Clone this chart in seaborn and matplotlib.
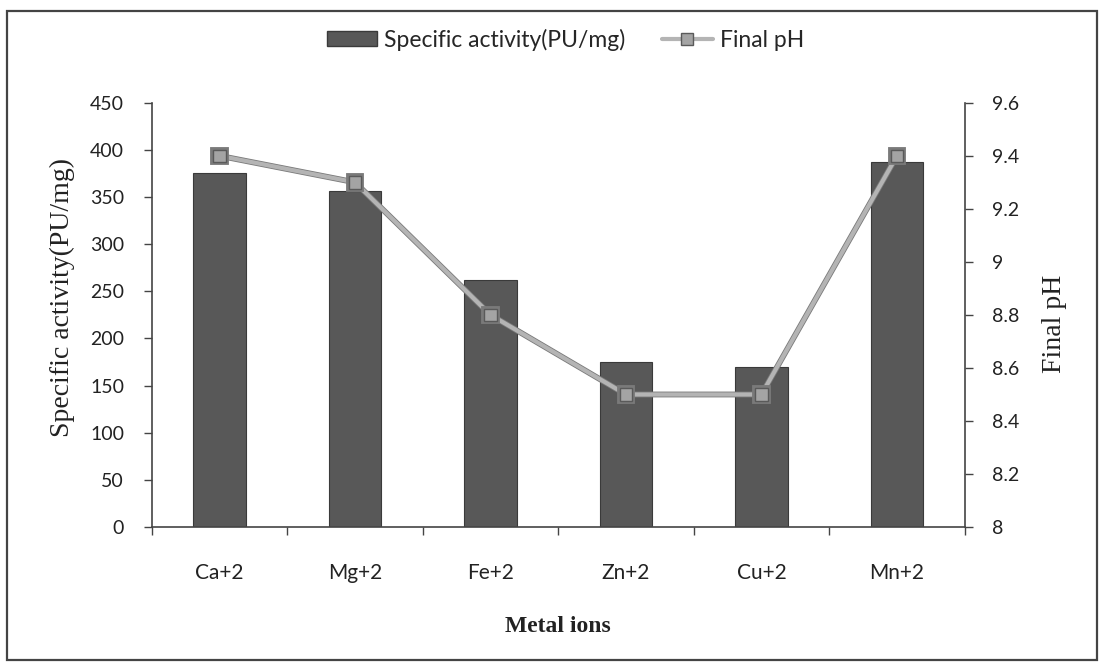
import matplotlib
matplotlib.use("Agg")
import matplotlib.pyplot as plt
import matplotlib.patheffects as pe
from matplotlib.patches import Rectangle
from matplotlib.lines import Line2D
import seaborn as sns
import numpy as np
import pandas as pd

metal_ions = ["Ca+2", "Mg+2", "Fe+2", "Zn+2", "Cu+2", "Mn+2"]
specific_activity = [375, 356, 262, 175, 170, 387]
final_ph = [9.4, 9.3, 8.8, 8.5, 8.5, 9.4]
left_ticks = [0, 50, 100, 150, 200, 250, 300, 350, 400, 450]
right_ticks = [8, 8.2, 8.4, 8.6, 8.8, 9, 9.2, 9.4, 9.6]
right_tick_labels = ["8", "8.2", "8.4", "8.6", "8.8", "9", "9.2", "9.4", "9.6"]

sns.set_theme(style="white")
plt.rcParams["font.family"] = ["Lato", "DejaVu Sans"]

df = pd.DataFrame({"ion": metal_ions, "activity": specific_activity, "ph": final_ph})

fig = plt.figure(figsize=(11, 6.63), dpi=100)
ax = fig.add_axes([0.138, 0.205, 0.739, 0.64])

bar_color = "#585858"
sns.barplot(data=df, x="ion", y="activity", color=bar_color, width=0.39,
            saturation=1, edgecolor="#3a3a3a", linewidth=0.8, ax=ax)
ax.set_xlim(-0.5, 5.5)
ax.set_ylim(0, 450)
ax.set_yticks(left_ticks)
ax.set_yticklabels([str(t) for t in left_ticks])

ax2 = ax.twinx()
line_color = "#b4b4b4"
sns.lineplot(x=np.arange(len(metal_ions)), y=final_ph, ax=ax2, color=line_color,
             linewidth=3.0, marker="s", markersize=9, markerfacecolor="#a4a4a4",
             markeredgecolor="#5a5a5a", markeredgewidth=1.0,
             path_effects=[pe.Stroke(linewidth=4.2, foreground="#7a7a7a"), pe.Normal()])
ax2.set_ylim(8, 9.6)
ax2.set_yticks(right_ticks)
ax2.set_yticklabels(right_tick_labels)
ax2.set_xlim(-0.5, 5.5)

# spines
for a in (ax, ax2):
    a.spines["top"].set_visible(False)
    for s in ("left", "right", "bottom"):
        a.spines[s].set_color("#444444")
        a.spines[s].set_linewidth(1.2)
ax.spines["right"].set_visible(False)
ax2.spines["left"].set_visible(False)
ax2.spines["bottom"].set_visible(False)

# ticks
ax.set_xticks(range(len(metal_ions)))
ax.set_xticklabels(metal_ions)
ax.set_xticks(np.arange(-0.5, 6.0, 1.0), minor=True)
ax.tick_params(axis="x", which="major", length=0, pad=26, labelsize=15, labelcolor="#222222")
ax.tick_params(axis="x", which="minor", bottom=True, length=6, width=1, color="#444444", direction="out")
ax.tick_params(axis="y", left=True, length=6, width=1, color="#444444", direction="out",
               labelsize=14, labelcolor="#222222", pad=14)
ax2.tick_params(axis="y", right=True, length=6, width=1, color="#444444", direction="out",
                labelsize=14, labelcolor="#222222", pad=14)

serif = ["Liberation Serif", "DejaVu Serif"]
ax.set_xlabel("Metal ions", family=serif, fontsize=17, fontweight="bold", color="#222222")
ax.xaxis.label.set_va("center")
ax.xaxis.set_label_coords(0.5, -0.235)
ax.set_ylabel("Specific activity(PU/mg)", family=serif, fontsize=20, color="#222222")
ax.yaxis.label.set_va("center")
ax.yaxis.set_label_coords(-0.11, 0.54)
ax2.set_ylabel("Final pH", family=serif, fontsize=20, color="#222222")
ax2.yaxis.label.set_va("center")
ax2.yaxis.set_label_coords(1.11, 0.48)

# legend
handles = [
    Rectangle((0, 0), 1, 1, facecolor=bar_color, edgecolor="#3a3a3a"),
    Line2D([0], [0], color=line_color, linewidth=3.0, marker="s", markersize=9,
           markerfacecolor="#a4a4a4", markeredgecolor="#5a5a5a"),
]
fig.legend(handles, ["Specific activity(PU/mg)", "Final pH"], loc="center",
           bbox_to_anchor=(0.514, 0.94), ncol=2, frameon=False, fontsize=16.5,
           handlelength=2.2, handleheight=0.6, handletextpad=0.3, columnspacing=1.6)

# outer frame
fig.patches.append(Rectangle((7 / 1100, 3 / 663), 1090 / 1100, 649 / 663,
                             transform=fig.transFigure, fill=False,
                             edgecolor="#444444", linewidth=1.6))

fig.savefig("out.png", dpi=100)
